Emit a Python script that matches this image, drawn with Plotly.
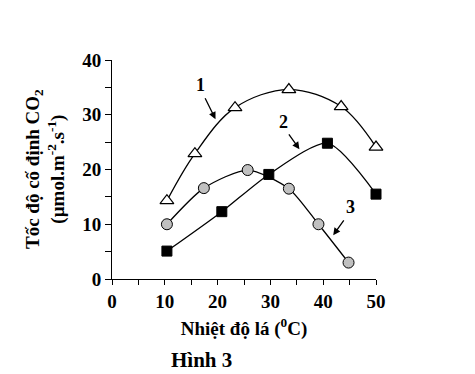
import plotly.graph_objects as go

# Data
temp1 = [10.4, 15.7, 23.3, 33.5, 43.4, 50.0]
rate1 = [14.3, 22.9, 31.3, 34.6, 31.5, 24.1]

temp2 = [10.4, 20.8, 29.7, 40.8, 50.0]
rate2 = [5.1, 12.3, 19.1, 24.8, 15.5]

temp3 = [10.4, 17.4, 25.7, 33.5, 39.1, 44.8]
rate3 = [10.0, 16.6, 19.9, 16.5, 10.0, 3.0]

x_ticks = [0, 10, 20, 30, 40, 50]
y_ticks = [0, 10, 20, 30, 40]

FONT = "Liberation Serif"

fig = go.Figure()

fig.add_trace(go.Scatter(
    x=temp1, y=rate1, mode="lines+markers",
    line=dict(color="black", width=1.3, shape="spline", smoothing=1.0),
    marker=dict(symbol="triangle-up", size=12, color="white",
                line=dict(color="black", width=1.2)),
    cliponaxis=False, showlegend=False))

fig.add_trace(go.Scatter(
    x=temp2, y=rate2, mode="lines+markers",
    line=dict(color="black", width=1.3, shape="spline", smoothing=0.7),
    marker=dict(symbol="square", size=10, color="black",
                line=dict(color="black", width=1)),
    cliponaxis=False, showlegend=False))

fig.add_trace(go.Scatter(
    x=temp3, y=rate3, mode="lines+markers",
    line=dict(color="black", width=1.3, shape="spline", smoothing=0.7),
    marker=dict(symbol="circle", size=11, color="#c0c0c0",
                line=dict(color="black", width=1)),
    cliponaxis=False, showlegend=False))

labels = [("1", 16.8, 35.4), ("2", 32.4, 28.7), ("3", 45.1, 13.1)]
arrows = [(17.5, 33.3, 19.6, 29.2), (33.3, 26.7, 35.5, 23.7), (44.1, 11.0, 41.9, 8.0)]

for t, lx, ly in labels:
    fig.add_annotation(x=lx, y=ly, xref="x", yref="y", text=t, showarrow=False,
                       font=dict(family=FONT, size=18, color="black", weight="bold"))
for ax_, ay_, hx, hy in arrows:
    fig.add_annotation(x=hx, y=hy, ax=ax_, ay=ay_, xref="x", yref="y",
                       axref="x", ayref="y", text="", showarrow=True,
                       arrowhead=2, arrowsize=1.1, arrowwidth=1.3,
                       arrowcolor="black", standoff=0, startstandoff=0)

# page has an 8px body margin; figure is offset to compensate
fig.update_layout(
    width=467, height=366,
    margin=dict(l=104, r=99, t=52, b=95),
    paper_bgcolor="white", plot_bgcolor="white",
    font=dict(family=FONT, size=19, color="black", weight="bold"),
    xaxis=dict(range=[0, 50], tickvals=x_ticks, ticks="outside", ticklen=5,
               tickwidth=1, tickcolor="black", showline=True, linecolor="black",
               linewidth=1, showgrid=False, zeroline=False,
               minor=dict(dtick=5, ticks="outside", ticklen=5, tickcolor="black", tick0=0),
               tickfont=dict(family=FONT, size=19, weight="bold"),
               title=dict(text="Nhiệt độ lá (<sup>0</sup>C)", standoff=10,
                          font=dict(family=FONT, size=19, weight="bold"))),
    yaxis=dict(range=[0, 40], tickvals=y_ticks, ticks="outside", ticklen=6,
               tickwidth=1, tickcolor="black", showline=True, linecolor="black",
               linewidth=1, showgrid=False, zeroline=False,
               minor=dict(dtick=5, ticks="outside", ticklen=6, tickcolor="black", tick0=0),
               tickfont=dict(family=FONT, size=19, weight="bold")),
)

fig.add_annotation(
    x=(45.5 - 112) / 264, y=0.5, xref="paper", yref="paper",
    text="Tốc độ cố định CO<sub>2</sub><br>(µmol.m<sup>-2</sup>.s<sup>-1</sup>)",
    showarrow=False, textangle=-90, xanchor="center", yanchor="middle",
    font=dict(family=FONT, size=19, color="black", weight="bold"))

fig.add_annotation(
    x=(201.5 - 112) / 264, y=-(360 - 279) / 219, xref="paper", yref="paper",
    text="Hình 3", showarrow=False, xanchor="center", yanchor="middle",
    font=dict(family=FONT, size=21, color="black", weight="bold"))

fig.write_html("out.html")
